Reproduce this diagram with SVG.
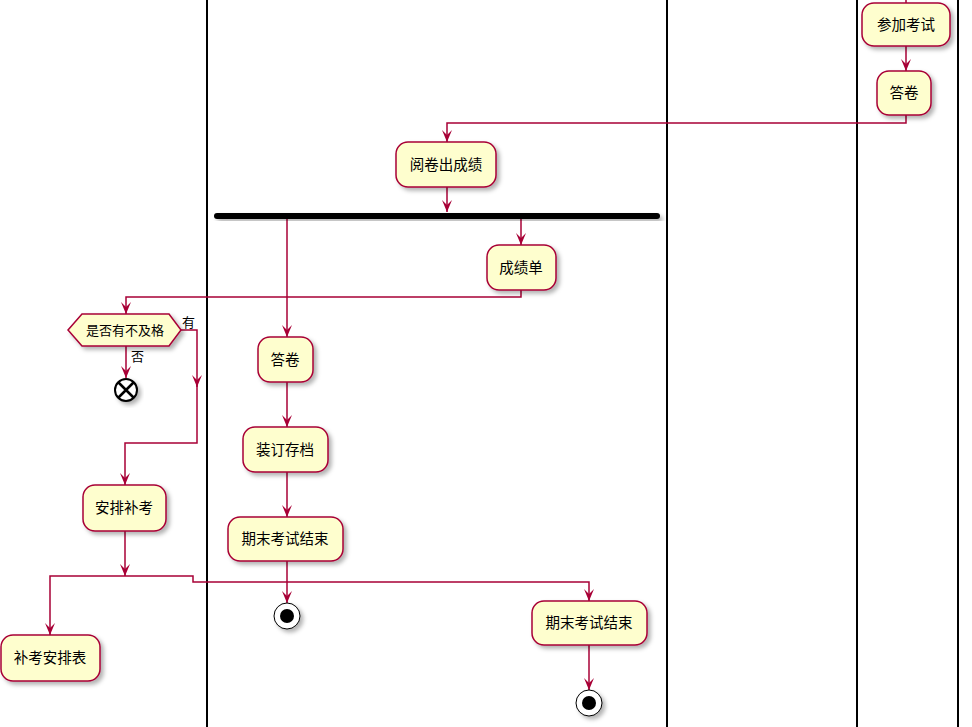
<svg xmlns="http://www.w3.org/2000/svg" width="972" height="727" viewBox="0 0 972 727">
<style>
.lane{stroke:#000;stroke-width:2;fill:none}
.box{fill:#FEFECE;stroke:#A80036;stroke-width:1.5;filter:url(#sh)}
.c{fill:none;stroke:#A80036;stroke-width:1.5}
.ca{fill:none;stroke:#A80036;stroke-width:1.5;marker-end:url(#ah)}
.t{font-family:"Noto Sans CJK SC","Liberation Sans",sans-serif;font-size:14.5px;fill:#000;text-anchor:middle}
.ts{font-family:"Noto Sans CJK SC","Liberation Sans",sans-serif;font-size:13px;fill:#000}
</style>
<defs>
<filter id="sh" x="-20%" y="-20%" width="150%" height="150%"><feDropShadow dx="3" dy="3" stdDeviation="2" flood-color="#000" flood-opacity="0.3"/></filter>
<marker id="ah" viewBox="0 0 12 10" refX="12" refY="5" markerWidth="12" markerHeight="10" markerUnits="userSpaceOnUse" orient="auto"><path d="M0,0 L12,5 L0,10 L5,5 Z" fill="#A80036"/></marker>
</defs>
<g id="lanes">
<line class="lane" x1="207" y1="0" x2="207" y2="727"/>
<line class="lane" x1="667" y1="0" x2="667" y2="727"/>
<line class="lane" x1="857" y1="0" x2="857" y2="727"/>
<line class="lane" x1="958" y1="0" x2="958" y2="727"/>
</g>
<g id="connectors">
<path class="c" d="M906,0 V3"/>
<path class="ca" d="M906,46 V71"/>
<path class="ca" d="M906,115 V123 H447 V142"/>
<path class="ca" d="M447,187 V212"/>
<path class="ca" d="M521,219 V245"/>
<path class="ca" d="M521,290 V297 H126 V314"/>
<path class="ca" d="M287,219 V337"/>
<path class="ca" d="M287,382 V427"/>
<path class="ca" d="M287,472 V517"/>
<path class="ca" d="M287,561 V603"/>
<path class="ca" d="M181,330 H197 V387"/>
<path class="ca" d="M197,384 V443 H125 V485"/>
<path class="ca" d="M126,346 V378"/>
<path class="ca" d="M125,531 V576"/>
<path class="ca" d="M125,576 H50 V635"/>
<path class="ca" d="M125,576 H193 V582 H589 V601"/>
<path class="ca" d="M589,645 V690"/>
</g>
<g id="n1"><rect class="box" x="862" y="3" width="88" height="43" rx="12"/><text class="t" x="906" y="30">参加考试</text></g>
<g id="n2"><rect class="box" x="877" y="71" width="54" height="44" rx="12"/><text class="t" x="904" y="98">答卷</text></g>
<g id="n3"><rect class="box" x="396" y="142" width="100" height="45" rx="12"/><text class="t" x="446" y="170">阅卷出成绩</text></g>
<g id="fork"><rect x="214" y="213" width="446" height="6" rx="3" fill="#000" filter="url(#sh)"/></g>
<g id="n4"><rect class="box" x="487" y="245" width="69" height="45" rx="12"/><text class="t" x="521" y="273">成绩单</text></g>
<g id="n5"><polygon class="box" points="68,330 82,314 169,314 181,330 169,346 82,346"/><text class="ts" x="125" y="335" text-anchor="middle">是否有不及格</text></g>
<g id="lbl-you"><text class="ts" x="182" y="327">有</text></g>
<g id="lbl-fou"><text class="ts" x="131" y="361">否</text></g>
<g id="end1"><circle cx="126" cy="390" r="11" fill="#fff" stroke="#000" stroke-width="2" filter="url(#sh)"/><path d="M118,382 L134,398 M134,382 L118,398" stroke="#000" stroke-width="2.5"/></g>
<g id="n6"><rect class="box" x="258" y="337" width="55" height="45" rx="12"/><text class="t" x="285" y="365">答卷</text></g>
<g id="n7"><rect class="box" x="243" y="427" width="85" height="45" rx="12"/><text class="t" x="285" y="455">装订存档</text></g>
<g id="n8"><rect class="box" x="228" y="517" width="115" height="44" rx="12"/><text class="t" x="285" y="544">期末考试结束</text></g>
<g id="stop1"><circle cx="287" cy="616" r="13" fill="#fff" stroke="#000" stroke-width="1" filter="url(#sh)"/><circle cx="287" cy="616" r="7" fill="#000"/></g>
<g id="n9"><rect class="box" x="83" y="485" width="83" height="46" rx="12"/><text class="t" x="124" y="513">安排补考</text></g>
<g id="n10"><rect class="box" x="1" y="635" width="99" height="46" rx="12"/><text class="t" x="50" y="663">补考安排表</text></g>
<g id="n11"><rect class="box" x="532" y="601" width="115" height="44" rx="12"/><text class="t" x="589" y="628">期末考试结束</text></g>
<g id="stop2"><circle cx="589" cy="703" r="13" fill="#fff" stroke="#000" stroke-width="1" filter="url(#sh)"/><circle cx="589" cy="703" r="7" fill="#000"/></g>
</svg>
